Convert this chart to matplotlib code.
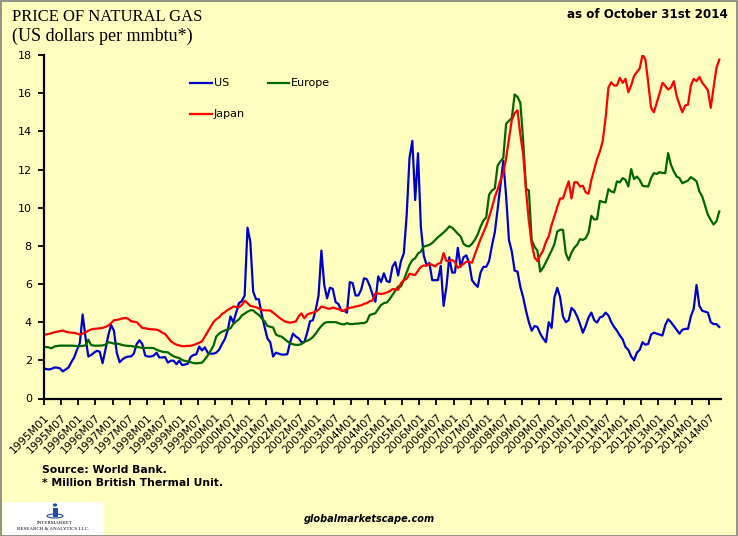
import matplotlib
matplotlib.use("Agg")
import matplotlib.pyplot as plt
import numpy as np
from matplotlib.lines import Line2D
from matplotlib.patches import Rectangle, Circle, Ellipse
from matplotlib.transforms import ScaledTranslation

# ---------------- data (monthly, 1995M01 .. 2014M10) ----------------
us = [
    1.55, 1.52, 1.55, 1.62, 1.62, 1.58, 1.42, 1.52, 1.62, 1.90, 2.15, 2.55,   # 1995
    2.90, 4.40, 3.20, 2.20, 2.28, 2.40, 2.50, 2.45, 1.85, 2.55, 3.30, 3.85,   # 1996
    3.55, 2.40, 1.90, 2.05, 2.15, 2.20, 2.20, 2.35, 2.85, 3.05, 2.85, 2.25,   # 1997
    2.20, 2.20, 2.25, 2.40, 2.15, 2.15, 2.17, 1.88, 1.98, 1.98, 1.80, 1.98,   # 1998
    1.75, 1.78, 1.82, 2.18, 2.28, 2.32, 2.72, 2.52, 2.68, 2.40, 2.35, 2.35,   # 1999
    2.40, 2.55, 2.85, 3.10, 3.55, 4.30, 4.00, 4.50, 5.00, 5.10, 5.40, 8.95,   # 2000
    8.20, 5.60, 5.20, 5.20, 4.40, 3.75, 3.15, 2.95, 2.20, 2.40, 2.35, 2.30,   # 2001
    2.30, 2.32, 2.95, 3.40, 3.25, 3.15, 2.95, 2.95, 3.45, 4.05, 4.10, 4.65,   # 2002
    5.40, 7.75, 5.95, 5.25, 5.80, 5.75, 5.05, 4.95, 4.60, 4.60, 4.50, 6.10,   # 2003
    6.05, 5.40, 5.40, 5.70, 6.30, 6.25, 5.90, 5.45, 5.07, 6.40, 6.10, 6.56,   # 2004
    6.15, 6.10, 6.90, 7.15, 6.45, 7.20, 7.60, 9.60, 12.60, 13.50, 10.40, 12.85,  # 2005
    9.00, 7.50, 7.00, 7.10, 6.20, 6.20, 6.20, 6.95, 4.85, 5.87, 7.40, 6.60,   # 2006
    6.60, 7.90, 6.90, 7.40, 7.50, 7.10, 6.20, 6.00, 5.85, 6.60, 6.90, 6.90,   # 2007
    7.20, 8.00, 8.70, 9.90, 11.20, 12.45, 10.60, 8.30, 7.70, 6.70, 6.65, 5.85,  # 2008
    5.30, 4.60, 4.00, 3.55, 3.80, 3.75, 3.40, 3.15, 2.95, 4.00, 3.70, 5.30,   # 2009
    5.80, 5.30, 4.30, 4.00, 4.10, 4.75, 4.60, 4.30, 3.90, 3.45, 3.80, 4.25,   # 2010
    4.50, 4.10, 3.98, 4.25, 4.30, 4.50, 4.35, 4.00, 3.75, 3.55, 3.30, 3.10,   # 2011
    2.70, 2.55, 2.20, 2.00, 2.40, 2.55, 2.95, 2.82, 2.86, 3.35, 3.45, 3.40,   # 2012
    3.35, 3.30, 3.85, 4.15, 4.00, 3.80, 3.60, 3.40, 3.60, 3.65, 3.65, 4.30,   # 2013
    4.70, 5.95, 4.85, 4.60, 4.55, 4.50, 4.00, 3.90, 3.90, 3.75,               # 2014
]

europe = [
    2.70, 2.68, 2.63, 2.72, 2.75, 2.77, 2.77, 2.77, 2.77, 2.77, 2.76, 2.75,
    2.74, 2.76, 2.78, 3.08, 2.80, 2.77, 2.77, 2.77, 2.78, 2.82, 2.95, 2.92,
    2.88, 2.88, 2.85, 2.80, 2.77, 2.76, 2.75, 2.72, 2.70, 2.68, 2.65, 2.65,
    2.65, 2.65, 2.64, 2.56, 2.50, 2.45, 2.43, 2.42, 2.30, 2.21, 2.16, 2.12,
    2.02, 1.97, 1.94, 1.90, 1.86, 1.84, 1.86, 1.88, 2.05, 2.25, 2.50, 2.75,
    3.25, 3.40, 3.50, 3.56, 3.62, 3.68, 3.90, 4.04, 4.15, 4.35, 4.45, 4.55,
    4.62, 4.62, 4.48, 4.38, 4.20, 4.05, 3.80, 3.76, 3.72, 3.35, 3.28, 3.24,
    3.12, 3.00, 2.90, 2.84, 2.81, 2.81, 2.85, 2.98, 3.02, 3.10, 3.22, 3.40,
    3.62, 3.80, 3.95, 4.00, 4.00, 4.00, 4.00, 3.95, 3.90, 3.88, 3.95, 3.90,
    3.90, 3.92, 3.93, 3.95, 3.95, 4.03, 4.38, 4.42, 4.47, 4.70, 4.90, 5.00,
    5.03, 5.20, 5.43, 5.65, 5.87, 5.87, 6.21, 6.60, 7.00, 7.25, 7.35, 7.60,
    7.70, 7.96, 8.00, 8.05, 8.15, 8.30, 8.45, 8.57, 8.70, 8.84, 9.02, 8.95,
    8.80, 8.63, 8.49, 8.11, 8.00, 7.97, 8.11, 8.32, 8.60, 9.00, 9.32, 9.49,
    10.68, 10.90, 11.00, 12.20, 12.43, 12.60, 14.40, 14.55, 14.70, 15.93, 15.80, 15.50,
    13.50, 11.00, 10.90, 8.30, 7.95, 7.75, 6.65, 6.85, 7.15, 7.45, 7.75, 8.10,
    8.75, 8.84, 8.84, 7.60, 7.25, 7.65, 7.90, 8.06, 8.35, 8.31, 8.40, 8.70,
    9.57, 9.38, 9.40, 10.36, 10.30, 10.27, 10.97, 10.85, 10.80, 11.38, 11.32, 11.55,
    11.46, 11.11, 12.02, 11.50, 11.63, 11.46, 11.15, 11.12, 11.11, 11.55, 11.81, 11.77,
    11.86, 11.82, 11.81, 12.86, 12.25, 11.90, 11.63, 11.55, 11.28, 11.35, 11.42, 11.60,
    11.50, 11.38, 10.85, 10.59, 10.10, 9.62, 9.35, 9.12, 9.28, 9.80,
]

japan = [
    3.35, 3.38, 3.42, 3.47, 3.50, 3.53, 3.56, 3.50, 3.47, 3.45, 3.44, 3.40,
    3.35, 3.40, 3.47, 3.55, 3.62, 3.65, 3.66, 3.68, 3.70, 3.75, 3.82, 3.95,
    4.10, 4.12, 4.15, 4.20, 4.22, 4.18, 4.05, 4.02, 4.00, 3.85, 3.70, 3.68,
    3.65, 3.63, 3.62, 3.61, 3.55, 3.45, 3.38, 3.20, 3.00, 2.90, 2.82, 2.78,
    2.74, 2.74, 2.76, 2.76, 2.80, 2.86, 2.92, 3.00, 3.25, 3.50, 3.75, 4.00,
    4.15, 4.25, 4.43, 4.52, 4.64, 4.72, 4.82, 4.80, 4.78, 4.90, 5.12, 5.00,
    4.85, 4.82, 4.78, 4.72, 4.64, 4.62, 4.62, 4.61, 4.50, 4.38, 4.25, 4.15,
    4.05, 4.00, 3.97, 4.00, 4.04, 4.30, 4.46, 4.20, 4.40, 4.46, 4.50, 4.55,
    4.65, 4.82, 4.78, 4.72, 4.70, 4.77, 4.72, 4.68, 4.62, 4.59, 4.73, 4.75,
    4.78, 4.82, 4.85, 4.88, 4.96, 5.00, 5.10, 5.13, 5.52, 5.50, 5.48, 5.50,
    5.55, 5.62, 5.73, 5.72, 5.70, 6.05, 6.20, 6.27, 6.54, 6.50, 6.47, 6.70,
    6.90, 6.97, 6.95, 7.06, 7.00, 6.92, 7.06, 7.10, 7.62, 7.20, 7.20, 7.26,
    7.15, 6.85, 6.95, 7.05, 7.17, 7.15, 7.12, 7.55, 7.95, 8.35, 8.70, 9.05,
    9.50, 10.00, 10.55, 10.95, 11.45, 11.80, 12.60, 13.60, 14.60, 14.96, 15.10, 13.82,
    12.80, 10.90, 9.30, 8.10, 7.40, 7.20, 7.50, 7.75, 8.20, 8.50, 9.10, 9.55,
    10.04, 10.48, 10.48, 10.95, 11.38, 10.48, 11.33, 11.33, 11.10, 11.15, 10.80, 10.73,
    11.46, 12.00, 12.55, 12.95, 13.50, 14.70, 16.30, 16.57, 16.40, 16.40, 16.80, 16.54,
    16.75, 16.05, 16.40, 16.90, 17.10, 17.30, 18.02, 17.76, 16.54, 15.23, 15.00, 15.50,
    16.00, 16.54, 16.38, 16.19, 16.30, 16.63, 15.84, 15.40, 15.00, 15.35, 15.40, 16.40,
    16.75, 16.63, 16.85, 16.55, 16.36, 16.15, 15.23, 16.30, 17.32, 17.76,
]

tick_labels = [f"{y}M{m}" for y in range(1995, 2015) for m in ("01", "07")]
y_ticks = [0, 2, 4, 6, 8, 10, 12, 14, 16, 18]
series_names = ["US", "Europe", "Japan"]

# ---------------- style ----------------
W, H = 738, 536
BG = "#FFFFC0"
C_US, C_EU, C_JP = "#0000CC", "#006600", "#FF0000"

def fx(px):
    return px / W

def fy(py):
    return 1 - py / H

fig = plt.figure(figsize=(W / 100, H / 100), dpi=100)
fig.patch.set_facecolor(BG)

L, R, T, B = 44.3, 720.7, 55.0, 398.5
ax = fig.add_axes([fx(L), fy(B), fx(R) - fx(L), fy(T) - fy(B)])
ax.set_facecolor(BG)

n = len(us)
x = np.arange(n)
ax.plot(x, us, color=C_US, lw=1.6, solid_joinstyle="round")
ax.plot(x, europe, color=C_EU, lw=1.6, solid_joinstyle="round")
ax.plot(x, japan, color=C_JP, lw=1.6, solid_joinstyle="round")

ax.set_xlim(-0.5, n - 0.5)
ax.set_ylim(0, 18)
ax.set_yticks(y_ticks)
ax.set_yticklabels([str(v) for v in y_ticks], fontsize=8, family="DejaVu Sans")
ax.set_xticks(np.arange(0, len(tick_labels) * 6, 6) - 0.5)
ax.set_xticklabels(tick_labels, rotation=45, ha="right", va="top",
                   rotation_mode="anchor", fontsize=7.8, family="DejaVu Sans")
for lab in ax.get_xticklabels():
    lab.set_transform(lab.get_transform() + ScaledTranslation(4 / 100, 0, fig.dpi_scale_trans))

for s in ("top", "right"):
    ax.spines[s].set_visible(False)
for s in ("left", "bottom"):
    ax.spines[s].set_linewidth(1.6)
    ax.spines[s].set_color("black")
ax.tick_params(axis="y", direction="out", length=4, width=1.3, pad=5)
ax.tick_params(axis="x", direction="out", length=4, width=1.3, pad=6)

# legend (manual, as in the original)
leg_items = [(190, 212, 83, C_US, series_names[0]),
             (268, 289, 83, C_EU, series_names[1]),
             (190, 212, 114, C_JP, series_names[2])]
for x0, x1, yy, col, name in leg_items:
    fig.add_artist(Line2D([fx(x0), fx(x1)], [fy(yy), fy(yy)], color=col, lw=1.6,
                          transform=fig.transFigure))
    fig.text(fx(x1 + 2), fy(yy), name, fontsize=8, family="DejaVu Sans",
             va="center", ha="left")

# titles
fig.text(fx(12), fy(17), "PRICE OF NATURAL GAS", family="Liberation Serif",
         fontsize=12, va="center", ha="left")
fig.text(fx(12), fy(36), "(US dollars per mmbtu*)", family="Liberation Serif",
         fontsize=13, va="center", ha="left")
fig.text(fx(728), fy(15), "as of October 31st 2014", family="DejaVu Sans",
         fontweight="bold", fontsize=8.6, va="center", ha="right")

# footer
fig.text(fx(42), fy(470), "Source: World Bank.", family="DejaVu Sans",
         fontweight="bold", fontsize=7.8, va="center", ha="left")
fig.text(fx(42), fy(483), "* Million British Thermal Unit.", family="DejaVu Sans",
         fontweight="bold", fontsize=7.8, va="center", ha="left")
fig.text(fx(369), fy(519), "globalmarketscape.com", family="DejaVu Sans",
         fontweight="bold", style="italic", fontsize=7, va="center", ha="center")

# logo box
fig.add_artist(Rectangle((fx(3), fy(535)), fx(104) - fx(3), fy(502) - fy(535),
                         transform=fig.transFigure, facecolor="white", edgecolor="none"))
fig.add_artist(Circle((fx(55), fy(505)), 2.2 / W, transform=fig.transFigure,
                      facecolor="#1F4E9A", edgecolor="none"))
fig.add_artist(Rectangle((fx(52.5), fy(517)), 5 / W, 9 / H, transform=fig.transFigure,
                         facecolor="#1F4E9A", edgecolor="none"))
fig.add_artist(Ellipse((fx(55), fy(516)), 16 / W, 4 / H, transform=fig.transFigure,
                       facecolor="none", edgecolor="#1F4E9A", lw=0.8))
fig.text(fx(55), fy(523.5), "INTERMARKET", family="Liberation Serif", fontsize=3.6,
         va="center", ha="center")
fig.text(fx(53.5), fy(529.5), "RESEARCH & ANALYTICS LLC.", family="Liberation Serif",
         fontsize=3.6, va="center", ha="center")

# outer border
fig.add_artist(Rectangle((0.5 / W, 0.5 / H), 1 - 1.5 / W, 1 - 1.5 / H,
                         transform=fig.transFigure, facecolor="none",
                         edgecolor="#808080", lw=1.2))

fig.savefig("out.png", dpi=100, facecolor=BG)
